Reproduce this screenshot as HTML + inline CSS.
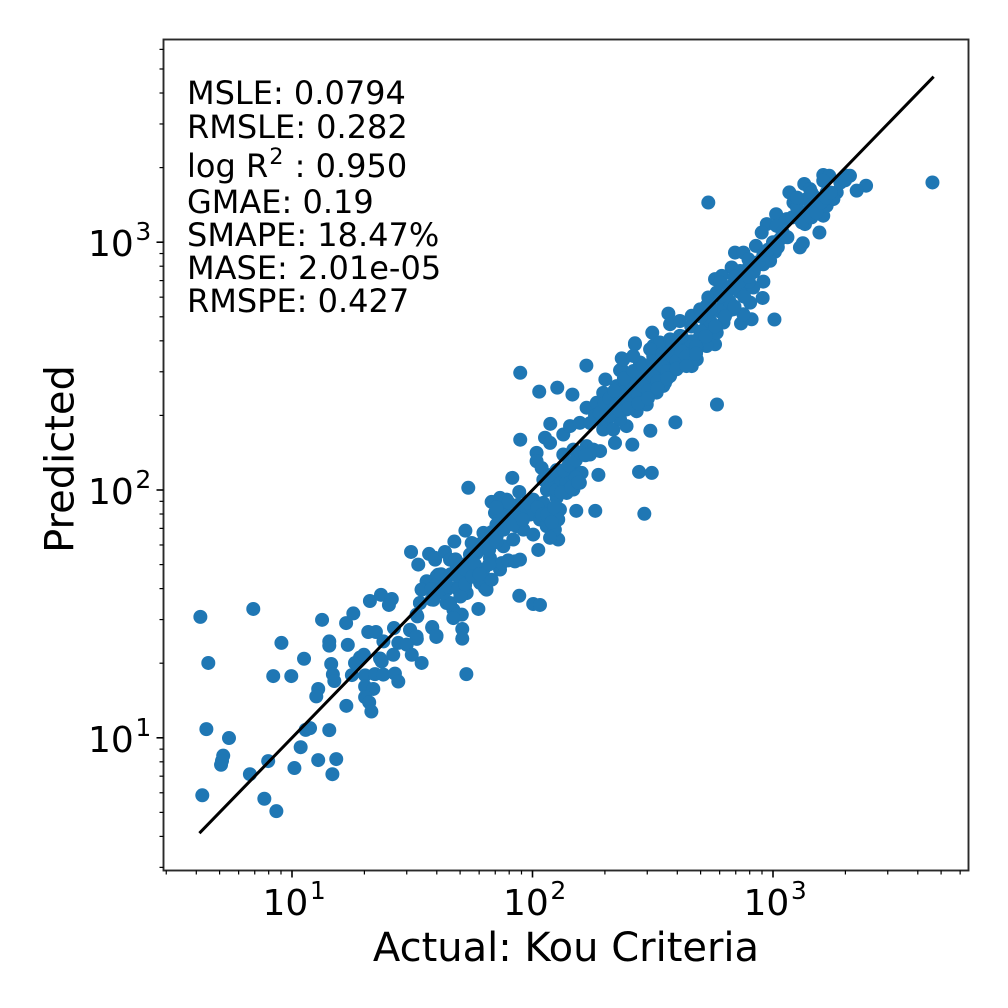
<!DOCTYPE html>
<html lang="en">
<head>
<meta charset="utf-8">
<title>Actual vs Predicted: Kou Criteria</title>
<style>
html,body{margin:0;padding:0;background:#fff;}
svg{display:block;}
text{font-family:"DejaVu Sans","Liberation Sans",sans-serif;fill:#000;}
</style>
</head>
<body>
<svg id="chart" xmlns="http://www.w3.org/2000/svg" width="1008" height="1008" viewBox="0 0 1008 1008">
  <rect x="0" y="0" width="1008" height="1008" fill="#fff"/>
  <g id="points"></g>
  <g id="fit"></g>
  <rect x="163.5" y="39.5" width="805" height="831" fill="none" stroke="#2a2a2a" stroke-width="1.9"/>
  <g id="xticks"></g>
  <g id="yticks"></g>
  <g font-size="32">
    <text x="187" y="104" font-size="32">MSLE: 0.0794</text>
    <text x="187" y="138" font-size="32">RMSLE: 0.282</text>
    <text x="187" y="177" font-size="32">log R<tspan font-size="22.4" dy="-13" dx="1">2</tspan><tspan dy="13" dx="1"> : 0.950</tspan></text>
    <text x="187" y="213" font-size="32">GMAE: 0.19</text>
    <text x="187" y="246" font-size="32">SMAPE: 18.47%</text>
    <text x="187" y="279" font-size="32">MASE: 2.01e-05</text>
    <text x="187" y="312" font-size="32">RMSPE: 0.427</text>
  </g>
  <text x="566" y="961" font-size="40" text-anchor="middle">Actual: Kou Criteria</text>
  <text x="0" y="0" font-size="40" text-anchor="middle" transform="translate(73.5 459) rotate(-90)">Predicted</text>
</svg>
<script>
// Values are log10 of the plotted quantity (both axes are logarithmic).
var actualLog10 = [
 .619,.839,.652,.956,1.050,.922,.997,1.125,1.225,1.255,
 1.324,1.370,1.415,1.403,1.155,1.155,1.232,1.163,1.170,1.176,
 1.109,1.101,1.226,1.249,1.262,1.283,1.299,1.366,1.373,1.317,
 1.349,1.380,1.424,1.442,1.491,1.519,1.477,1.498,1.421,1.539,
 1.304,1.345,1.380,1.428,1.442,1.304,1.338,1.304,1.321,1.330,
 .644,.738,.714,.705,.709,.627,.825,.885,.935,.901,
 1.010,1.036,1.057,1.075,1.155,1.109,1.184,1.168,1.725,1.708,
 1.708,1.775,1.583,1.600,1.525,1.595,1.539,1.560,1.602,1.532,
 1.521,1.581,1.629,1.643,1.671,1.671,1.706,1.726,1.712,1.699,
 1.768,1.802,1.810,1.754,
 1.949,2.224,2.028,2.103,2.166,2.074,1.949,2.594,2.490,2.415,
 2.274,2.443,2.496,2.465,2.182,2.261,1.916,1.733,1.495,2.024,
 1.945,2.003,2.031,1.675,1.721,1.570,1.595,1.636,2.767,
 1.657,1.685,1.712,1.740,1.768,1.796,1.823,1.851,1.879,1.920,
 1.796,1.865,1.906,1.934,1.962,2.003,1.747,1.698,1.643,1.657,
 1.685,1.671,1.608,1.560,1.539,1.532,1.518,1.588,1.629,1.726,
 1.719,1.782,1.809,1.830,1.796,1.865,1.872,1.899,1.927,1.948,
 1.823,1.830,1.865,1.893,1.945,1.844,1.879,1.920,1.976,2.003,
 2.045,1.990,2.031,2.059,2.087,2.107,2.093,2.100,2.114,2.107,
 2.073,2.017,2.017,2.038,2.045,2.087,2.114,2.142,2.170,2.128,
 2.170,2.197,2.225,2.253,2.281,2.239,2.204,2.197,2.170,2.142,
 2.114,2.156,2.052,2.073,2.128,2.156,2.197,2.225,2.267,2.294,
 2.303,2.350,2.371,2.364,2.426,2.405,2.447,2.475,2.433,2.391,
 2.308,2.294,2.336,2.391,2.343,2.516,2.551,2.502,2.558,2.599,
 2.662,2.669,2.627,2.502,2.447,2.475,2.419,2.350,2.308,2.281,
 2.364,2.488,2.530,2.572,2.461,2.391,2.336,1.491,1.518,1.583,1.601,
 2.731,3.663,3.193,3.112,3.124,3.006,2.867,2.911,2.877,2.960,
 2.957,2.905,3.387,3.348,3.320,3.306,3.209,3.234,3.209,3.130,
 3.154,3.068,3.209,3.133,3.013,2.974,2.953,2.929,3.029,3.008,
 2.988,2.960,2.842,2.877,2.898,2.828,2.863,2.925,2.759,2.787,
 2.780,2.731,2.766,2.821,2.877,2.918,2.835,2.808,2.794,2.759,
 2.766,2.724,2.683,2.662,2.565,2.572,2.613,2.662,2.697,2.724,
 2.697,2.498,2.426,2.530,2.489,2.572,2.613,2.447,2.503,2.544,
 2.572,2.544,2.516,2.461,2.406,2.371,2.378,2.419,3.085,3.112,
 3.154,3.182,3.223,3.265,3.223,3.057,3.015,3.251,3.168,3.140,
 2.669,2.641,2.600,2.627,2.683,2.752,2.780,2.724,
 1.60,1.62,1.64,1.66,1.68,1.70,1.72,1.74,1.76,1.76,
 1.78,1.80,1.82,1.83,1.85,1.86,1.88,1.90,1.92,1.95,
 1.85,1.58,1.62,1.65,1.69,1.70,1.72,1.75,1.78,1.82,
 2.06,2.08,2.10,2.12,2.14,2.16,2.18,2.07,2.10,2.13,
 2.15,2.18,2.20,2.22,2.12,2.16,2.19,1.94,1.96,1.98,
 2.02,2.04,2.06,2.08,2.09,1.87,1.90,1.85,2.24,2.26,
 2.28,2.30,2.32,2.34,2.36,2.38,2.40,2.42,2.44,2.46,
 2.48,2.50,2.52,2.54,2.56,2.58,2.60,2.62,2.64,2.66,
 2.68,2.70,2.72,2.74,2.76,2.78,2.80,2.82,2.84,2.86,
 2.88,2.34,2.38,2.42,2.46,2.50,2.54,2.58,2.62,2.66,
 2.70,2.74,2.78,2.82,2.86,2.90,2.32,2.36,2.40,2.44,
 2.48,2.52,2.56,2.60,2.64,2.68,2.90,2.92,2.94,2.96,
 2.98,3.00,3.02,3.04,3.06,3.08,3.10,3.12,3.14,3.16,
 3.18,3.20,3.22,3.24,3.16,3.10,3.28,3.30,2.84,2.86,2.90
];
var predictedLog10 = [
 1.488,1.520,1.302,1.383,1.319,1.249,1.249,1.476,1.463,1.502,
 1.552,1.577,1.560,1.536,1.389,1.372,1.375,1.298,1.256,1.229,
 1.197,1.167,1.129,1.253,1.302,1.324,1.335,1.320,1.308,1.427,
 1.427,1.389,1.443,1.383,1.434,1.399,1.376,1.335,1.335,1.302,
 1.252,1.257,1.255,1.259,1.227,1.207,1.197,1.164,1.143,1.106,
 1.035,.999,.928,.891,.907,.768,.853,.754,.704,.906,
 .878,.962,1.032,1.039,1.031,.910,.914,.853,1.257,1.439,
 1.400,1.520,1.444,1.407,1.699,1.719,1.598,1.632,1.652,1.544,
 1.490,1.558,1.585,1.544,1.517,1.484,1.497,1.585,1.638,1.679,
 1.665,1.605,1.638,1.706,
 2.473,2.502,2.397,2.413,2.385,2.267,2.203,2.273,2.239,2.183,
 2.061,2.073,2.069,1.904,1.916,1.916,2.049,2.009,1.750,1.758,
 1.573,1.540,1.536,1.792,1.836,1.742,1.726,1.750,2.345,
 1.719,1.692,1.665,1.719,1.746,1.773,1.800,1.813,1.773,1.800,
 1.827,1.840,1.881,1.854,1.840,1.820,1.786,1.638,1.598,1.544,
 1.497,1.483,1.658,1.631,1.598,1.544,1.497,1.557,1.584,1.584,
 1.611,1.625,1.598,1.638,1.679,1.679,1.705,1.716,1.712,1.719,
 1.726,1.952,1.968,1.961,1.992,1.908,1.921,1.894,1.921,1.961,
 1.948,1.901,1.881,1.854,1.813,1.800,1.840,1.968,1.921,1.881,
 1.807,2.150,2.116,2.089,2.042,2.042,2.056,2.069,2.096,2.143,
 2.163,2.150,2.177,2.163,2.157,2.143,2.069,2.029,2.002,1.988,
 2.015,2.042,2.211,2.190,2.224,2.258,2.271,2.332,2.352,2.392,
 2.446,2.419,2.531,2.483,2.588,2.446,2.460,2.345,2.318,2.325,
 2.271,2.244,2.244,2.258,2.190,2.406,2.433,2.541,2.554,2.487,
 2.514,2.568,2.581,2.581,2.514,2.487,2.379,2.352,2.325,2.285,
 2.285,2.433,2.473,2.527,2.419,2.406,2.379,1.436,1.409,1.447,1.412,
 3.160,3.241,3.039,2.979,2.996,2.688,2.672,2.689,2.709,2.841,
 2.775,2.756,3.228,3.208,3.268,3.268,3.271,3.268,3.248,3.235,
 3.214,3.201,3.107,3.073,3.113,3.073,3.039,2.985,3.012,2.961,
 2.925,2.911,2.958,2.958,2.931,2.898,2.884,2.898,2.851,2.864,
 2.837,2.777,2.797,2.810,2.810,2.817,2.729,2.716,2.676,2.588,
 2.635,2.581,2.527,2.500,2.712,2.669,2.682,2.703,2.729,2.662,
 2.622,2.635,2.592,2.595,2.568,2.608,2.622,2.514,2.487,2.500,
 2.460,2.420,2.393,2.433,2.433,2.487,2.527,2.541,3.160,3.107,
 3.134,3.147,3.147,3.201,3.201,3.093,3.066,3.174,3.187,3.174,
 2.595,2.568,2.541,2.514,2.568,2.729,2.729,2.743,
 1.62,1.66,1.64,1.66,1.72,1.70,1.68,1.74,1.70,1.78,
 1.76,1.80,1.76,1.83,1.79,1.88,1.84,1.90,1.86,1.90,
 1.86,1.60,1.60,1.61,1.60,1.57,1.62,1.65,1.66,1.70,
 2.00,2.02,2.00,2.04,2.03,2.06,2.05,2.06,2.08,2.08,
 2.10,2.12,2.15,2.14,1.99,2.01,2.03,1.94,1.88,1.95,
 1.93,1.90,1.90,1.87,1.93,1.94,1.95,1.93,2.27,2.30,
 2.31,2.35,2.37,2.33,2.35,2.38,2.36,2.40,2.38,2.42,
 2.40,2.46,2.44,2.50,2.48,2.54,2.52,2.56,2.54,2.60,
 2.58,2.64,2.62,2.68,2.66,2.72,2.70,2.76,2.74,2.80,
 2.78,2.40,2.45,2.48,2.50,2.52,2.55,2.59,2.62,2.66,
 2.70,2.73,2.78,2.82,2.86,2.90,2.30,2.32,2.33,2.35,
 2.37,2.41,2.45,2.49,2.50,2.55,2.84,2.88,2.92,2.95,
 2.97,3.00,2.98,3.04,3.02,3.10,3.14,3.08,3.12,3.10,
 3.12,3.16,3.18,3.20,3.20,3.18,3.24,3.25,2.86,2.84,2.86
];
var identityLineLog10 = [0.615, 3.668];
var majorTickExponents = [1, 2, 3];
var majorTickBase = '10';
var minorTickValues = [3,4,5,6,7,8,9,20,30,40,50,60,70,80,90,200,300,400,500,600,700,800,900,2000,3000,4000,5000,6000];

var SVGNS = 'http://www.w3.org/2000/svg';
function xScale(v){ return 292 + (v - 1) * 240.5; }
function yScale(v){ return 737.8 - (v - 1) * 247.8; }
function make(tag, parent){
  var el = document.createElementNS(SVGNS, tag);
  parent.appendChild(el);
  return el;
}

var pointsLayer = document.getElementById('points');
var n = Math.min(actualLog10.length, predictedLog10.length);
for (var i = 0; i < n; i++) {
  var c = make('circle', pointsLayer);
  
  
  c.setAttribute('cx', xScale(actualLog10[i]).toFixed(2));
  c.setAttribute('cy', yScale(predictedLog10[i]).toFixed(2));
  c.setAttribute('r', '7');
  c.setAttribute('fill', '#1f77b4');
}

var fitLayer = document.getElementById('fit');
var fitLine = make('line', fitLayer);


fitLine.setAttribute('x1', xScale(identityLineLog10[0]));
fitLine.setAttribute('y1', yScale(identityLineLog10[0]));
fitLine.setAttribute('x2', xScale(identityLineLog10[1]));
fitLine.setAttribute('y2', yScale(identityLineLog10[1]));
fitLine.setAttribute('stroke', '#000');
fitLine.setAttribute('stroke-width', '3');

var xTicks = document.getElementById('xticks');
var yTicks = document.getElementById('yticks');
var FRAME_BOTTOM = 870.5, FRAME_LEFT = 163.5;

minorTickValues.forEach(function(v){
  var lv = Math.log10(v);
  var xm = make('line', xTicks);
  
  
  xm.setAttribute('x1', xScale(lv));
  xm.setAttribute('x2', xScale(lv));
  xm.setAttribute('y1', FRAME_BOTTOM);
  xm.setAttribute('y2', FRAME_BOTTOM + 4);
  xm.setAttribute('stroke', '#000');
  xm.setAttribute('stroke-width', '1.2');
  var ym = make('line', yTicks);
  
  
  ym.setAttribute('y1', yScale(lv));
  ym.setAttribute('y2', yScale(lv));
  ym.setAttribute('x1', FRAME_LEFT);
  ym.setAttribute('x2', FRAME_LEFT - 4);
  ym.setAttribute('stroke', '#000');
  ym.setAttribute('stroke-width', '1.2');
});

function addTickLabel(parent, x, y, exponent, name){
  var t = make('text', parent);
  
  
  t.setAttribute('x', x);
  t.setAttribute('y', y);
  t.setAttribute('font-size', '36');
  var base = make('tspan', t);
  base.textContent = majorTickBase;
  var sup = make('tspan', t);
  sup.setAttribute('font-size', '25');
  sup.setAttribute('dy', '-16');
  sup.setAttribute('dx', '1.5');
  sup.textContent = String(exponent);
}

majorTickExponents.forEach(function(e){
  var xM = make('line', xTicks);
  
  
  xM.setAttribute('x1', xScale(e));
  xM.setAttribute('x2', xScale(e));
  xM.setAttribute('y1', FRAME_BOTTOM);
  xM.setAttribute('y2', FRAME_BOTTOM + 7);
  xM.setAttribute('stroke', '#000');
  xM.setAttribute('stroke-width', '1.6');
  addTickLabel(xTicks, xScale(e) - 29.5, 915, e, 'x-tick-label');

  var yM = make('line', yTicks);
  
  
  yM.setAttribute('y1', yScale(e));
  yM.setAttribute('y2', yScale(e));
  yM.setAttribute('x1', FRAME_LEFT);
  yM.setAttribute('x2', FRAME_LEFT - 7);
  yM.setAttribute('stroke', '#000');
  yM.setAttribute('stroke-width', '1.6');
  addTickLabel(yTicks, 88, yScale(e) + 14, e, 'y-tick-label');
});
</script>
</body>
</html>
